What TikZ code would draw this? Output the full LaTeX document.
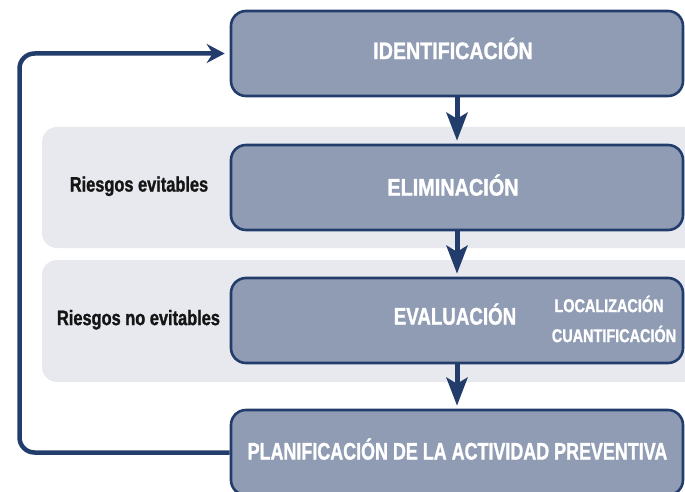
\documentclass[tikz,border=0pt]{standalone}
\usepackage{fontspec}
\usepackage{graphicx}
\setmainfont{Liberation Sans}[FakeStretch=0.78, BoldFeatures={FakeBold=1.2}]
\usetikzlibrary{arrows.meta}
\definecolor{navy}{HTML}{223D6C}
\definecolor{boxfill}{HTML}{909CB4}
\definecolor{bandfill}{HTML}{E8E9EE}
\definecolor{labelcol}{HTML}{151515}
\tikzset{
  stagebox/.style={draw=navy, line width=2.6pt, fill=boxfill, rounded corners=15pt,
    minimum width=452pt, minimum height=85pt, inner sep=0pt},
  bandbox/.style={fill=bandfill, rounded corners=15pt},
  sidelabel/.style={text=labelcol, font=\bfseries\fontsize{21}{24}\selectfont, inner sep=0pt,
    text height=0.72em, text depth=0.2em},
  subtext/.style={text=white, font=\bfseries\fontsize{18.5}{22}\selectfont, inner sep=0pt,
    text height=0.72em, text depth=0pt},
  boxtext/.style={text=white, font=\bfseries\fontsize{24}{28}\selectfont, inner sep=0pt,
    text height=0.72em, text depth=0pt},
  flowarrow/.style={draw=navy, line width=5pt, -{Stealth[length=28pt,width=21pt,inset=6pt]}},
  looparrow/.style={draw=navy, line width=4.5pt, rounded corners=15pt,
    -{Stealth[length=18pt,width=19pt,inset=6pt]}}
}
\begin{document}
\begin{tikzpicture}[x=1pt,y=-1pt]
\useasboundingbox (0,0) rectangle (685,492);
\clip (0,0) rectangle (685,492);
% bands
\fill[bandbox] (42,127) rectangle (720,248);
\fill[bandbox] (42,260) rectangle (720,382);
% boxes
\node[stagebox] (ident) at (457,53.5) {};
\node[boxtext] (identt) at (453,55.5) {\scalebox{1.05}[1]{IDENTIFICACIÓN}};
\node[stagebox] (elim) at (457,187.5) {};
\node[boxtext] (elimt) at (453,192) {\scalebox{1.06}[1]{ELIMINACIÓN}};
\node[stagebox] (eval) at (457,320.5) {};
\node[boxtext] (evalt) at (455,321) {EVALUACIÓN};
\node[subtext] (loc) at (609,308.5) {LOCALIZACIÓN};
\node[subtext] (cuant) at (614,338.5) {CUANTIFICACIÓN};
\node[stagebox] (plan) at (457,452.5) {};
\node[boxtext] (plant) at (457.5,456) {\scalebox{0.957}[1]{PLANIFICACIÓN DE LA ACTIVIDAD PREVENTIVA}};
% side labels
\node[sidelabel] (ev) at (139,189) {Riesgos evitables};
\node[sidelabel] (nev) at (138.5,322.5) {Riesgos no evitables};
% arrows
\draw[flowarrow] (ident.south) -- ([yshift=3pt]elim.north);
\draw[flowarrow] (elim.south) -- ([yshift=3pt]eval.north);
\draw[flowarrow] (eval.south) -- ([yshift=3pt]plan.north);
\coordinate (lb) at (19.5,0);
\draw[looparrow] (plan.west) -| (lb |- ident.west) -- ([xshift=-5pt]ident.west);
\end{tikzpicture}
\end{document}
